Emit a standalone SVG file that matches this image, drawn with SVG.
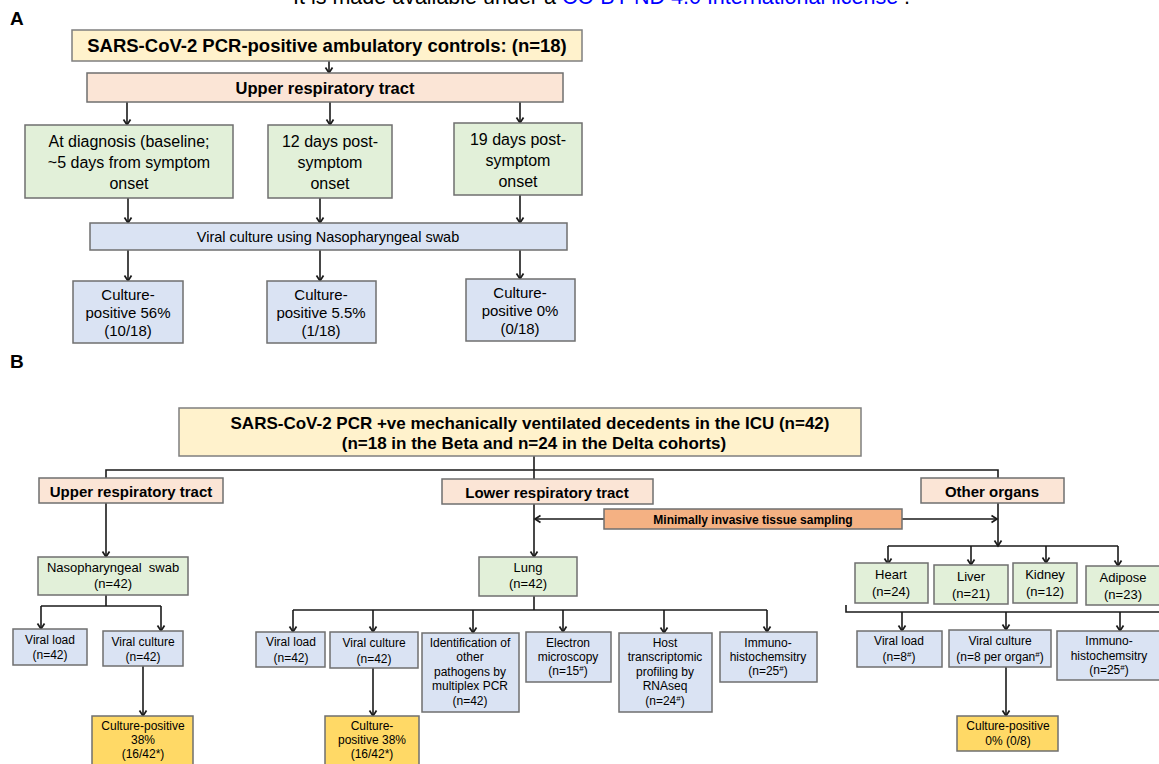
<svg xmlns="http://www.w3.org/2000/svg" width="1159" height="764" viewBox="0 0 1159 764">
<style>
text{font-family:"Liberation Sans",Arial,sans-serif;fill:#000;}
.b{font-weight:bold;}
.c{text-anchor:middle;}
.yel{fill:#fff2cc;stroke:#7f7f7f;stroke-width:1.5;}
.pch{fill:#fbe5d6;stroke:#6f6f6f;stroke-width:1.5;}
.grn{fill:#e2f0d9;stroke:#6f6f6f;stroke-width:1.5;}
.blu{fill:#dae3f3;stroke:#6f6f6f;stroke-width:1.5;}
.org{fill:#f4b183;stroke:#6f6f6f;stroke-width:1.5;}
.gld{fill:#ffd966;stroke:#6f6f6f;stroke-width:1.5;}
.ln{fill:none;stroke:#1a1a1a;stroke-width:1.6;}
.ar{fill:none;stroke:#1a1a1a;stroke-width:1.6;marker-end:url(#ah);}
.t16{font-size:16px;}
.t15{font-size:15px;}
.t13{font-size:13px;}
.t12{font-size:12px;}
</style>
<defs>
<marker id="ah" markerWidth="12" markerHeight="12" refX="9" refY="6" orient="auto" markerUnits="userSpaceOnUse">
<path d="M3.5,2.5 L9,6 L3.5,9.5" fill="none" stroke="#1a1a1a" stroke-width="1.7"/>
</marker>
</defs>

<g id="header">
<text x="293" y="4" style="font-size:21.5px">It is made available under a <tspan fill="#0000ff" style="fill:#0000ff">CC-BY-ND 4.0 International license</tspan> .</text>
<text x="10" y="25" class="b" style="font-size:19px">A</text>
<text x="10" y="368" class="b" style="font-size:19px">B</text>
</g>

<g id="connectors">
<path class="ar" d="M329,61 V73"/>
<path class="ar" d="M127,102 V125"/>
<path class="ar" d="M330,102 V125"/>
<path class="ar" d="M520,102 V123"/>
<path class="ar" d="M128,198 V223"/>
<path class="ar" d="M320,198 V223"/>
<path class="ar" d="M520,195 V223"/>
<path class="ar" d="M128,250 V281"/>
<path class="ar" d="M320,250 V281"/>
<path class="ar" d="M520,250 V279"/>
<path class="ln" d="M534,456 V479"/>
<path class="ln" d="M106,478 V470 H998 V478"/>
<path class="ar" d="M106,503 V557"/>
<path class="ar" d="M534,504 V557"/>
<path class="ar" d="M604,519 H535"/>
<path class="ar" d="M902,519 H997"/>
<path class="ar" d="M998,503 V546"/>
<path class="ln" d="M888,546 H1118"/>
<path class="ar" d="M888,546 V564"/>
<path class="ar" d="M971,546 V565"/>
<path class="ar" d="M1046,546 V563"/>
<path class="ar" d="M1118,546 V566"/>
<path class="ln" d="M846,605 V612 H1160"/>
<path class="ar" d="M902,612 V631"/>
<path class="ar" d="M1006,612 V630"/>
<path class="ar" d="M1120,612 V631"/>
<path class="ar" d="M1006,667 V716"/>
<path class="ln" d="M106,595 V606"/>
<path class="ln" d="M41,606 H161"/>
<path class="ar" d="M41,606 V629"/>
<path class="ar" d="M161,606 V631"/>
<path class="ar" d="M143,666 V716"/>
<path class="ln" d="M534,596 V610"/>
<path class="ln" d="M293,610 H767"/>
<path class="ar" d="M293,610 V632"/>
<path class="ar" d="M373,610 V632"/>
<path class="ar" d="M473,610 V633"/>
<path class="ar" d="M563,610 V632"/>
<path class="ar" d="M664,610 V633"/>
<path class="ar" d="M767,610 V632"/>
<path class="ar" d="M373,668 V716"/>
</g>

<g id="a-title">
<rect class="yel" x="72" y="30" width="510" height="31"/>
<text class="b c" x="327" y="52" style="font-size:18.5px">SARS-CoV-2 PCR-positive ambulatory controls: (n=18)</text>
</g>
<g id="a-urt">
<rect class="pch" x="87" y="73" width="476" height="29"/>
<text class="b c" x="325" y="94" style="font-size:16.5px">Upper respiratory tract</text>
</g>
<g id="a-baseline">
<rect class="grn" x="25" y="125" width="208" height="73"/>
<text class="c t16" x="129" y="147">At diagnosis (baseline;</text>
<text class="c t16" x="129" y="168">~5 days from symptom</text>
<text class="c t16" x="129" y="189">onset</text>
</g>
<g id="a-12days">
<rect class="grn" x="268" y="125" width="124" height="73"/>
<text class="c t16" x="330" y="147">12 days post-</text>
<text class="c t16" x="330" y="168">symptom</text>
<text class="c t16" x="330" y="189">onset</text>
</g>
<g id="a-19days">
<rect class="grn" x="454" y="123" width="128" height="72"/>
<text class="c t16" x="518" y="145">19 days post-</text>
<text class="c t16" x="518" y="166">symptom</text>
<text class="c t16" x="518" y="187">onset</text>
</g>
<g id="a-culture">
<rect class="blu" x="90" y="223" width="477" height="27"/>
<text class="c" x="328" y="242" style="font-size:14.5px">Viral culture using Nasopharyngeal swab</text>
</g>
<g id="a-res1">
<rect class="blu" x="73" y="281" width="110" height="62"/>
<text class="c t15" x="128" y="300">Culture-</text>
<text class="c t15" x="128" y="318">positive 56%</text>
<text class="c t15" x="128" y="336">(10/18)</text>
</g>
<g id="a-res2">
<rect class="blu" x="267" y="281" width="109" height="62"/>
<text class="c t15" x="321" y="300">Culture-</text>
<text class="c t15" x="321" y="318">positive 5.5%</text>
<text class="c t15" x="321" y="336">(1/18)</text>
</g>
<g id="a-res3">
<rect class="blu" x="466" y="279" width="109" height="62"/>
<text class="c t15" x="520" y="298">Culture-</text>
<text class="c t15" x="520" y="316">positive 0%</text>
<text class="c t15" x="520" y="334">(0/18)</text>
</g>

<g id="b-title">
<rect class="yel" x="179" y="408" width="682" height="48"/>
<text class="b c" x="530" y="429" style="font-size:17px">SARS-CoV-2 PCR +ve mechanically ventilated decedents in the ICU (n=42)</text>
<text class="b c" x="534" y="449" style="font-size:17px">(n=18 in the Beta and n=24 in the Delta cohorts)</text>
</g>
<g id="b-urt">
<rect class="pch" x="39" y="478" width="184" height="25"/>
<text class="b c" x="131" y="497" style="font-size:15px">Upper respiratory tract</text>
</g>
<g id="b-lrt">
<rect class="pch" x="442" y="479" width="211" height="25"/>
<text class="b c" x="547" y="498" style="font-size:15px">Lower respiratory tract</text>
</g>
<g id="b-other">
<rect class="pch" x="921" y="478" width="143" height="25"/>
<text class="b c" x="992" y="497" style="font-size:15px">Other organs</text>
</g>
<g id="b-mits">
<rect class="org" x="604" y="509" width="298" height="20"/>
<text class="b c" x="753" y="524" style="font-size:12px">Minimally invasive tissue sampling</text>
</g>
<g id="b-naso">
<rect class="grn" x="38" y="557" width="150" height="38"/>
<text class="c t13" x="113" y="572" xml:space="preserve">Nasopharyngeal  swab</text>
<text class="c t13" x="113" y="588">(n=42)</text>
</g>
<g id="b-lung">
<rect class="grn" x="479" y="557" width="98" height="39"/>
<text class="c t13" x="528" y="572">Lung</text>
<text class="c t13" x="528" y="588">(n=42)</text>
</g>
<g id="b-heart">
<rect class="grn" x="855" y="563" width="73" height="40"/>
<text class="c t13" x="891" y="579">Heart</text>
<text class="c t13" x="891" y="596">(n=24)</text>
</g>
<g id="b-liver">
<rect class="grn" x="934" y="565" width="74" height="39"/>
<text class="c t13" x="971" y="581">Liver</text>
<text class="c t13" x="971" y="598">(n=21)</text>
</g>
<g id="b-kidney">
<rect class="grn" x="1013" y="563" width="64" height="40"/>
<text class="c t13" x="1045" y="579">Kidney</text>
<text class="c t13" x="1045" y="596">(n=12)</text>
</g>
<g id="b-adipose">
<rect class="grn" x="1086" y="566" width="76" height="39"/>
<text class="c t13" x="1123" y="582">Adipose</text>
<text class="c t13" x="1123" y="599">(n=23)</text>
</g>

<g id="b-naso-load">
<rect class="blu" x="13" y="629" width="74" height="36"/>
<text class="c t12" x="50" y="644">Viral load</text>
<text class="c t12" x="50" y="659">(n=42)</text>
</g>
<g id="b-naso-culture">
<rect class="blu" x="103" y="631" width="80" height="35"/>
<text class="c t12" x="143" y="646">Viral culture</text>
<text class="c t12" x="143" y="661">(n=42)</text>
</g>
<g id="b-naso-pos">
<rect class="gld" x="92" y="716" width="101" height="54"/>
<text class="c t12" x="143" y="730">Culture-positive</text>
<text class="c t12" x="143" y="744">38%</text>
<text class="c t12" x="143" y="758">(16/42*)</text>
</g>

<g id="b-lung-load">
<rect class="blu" x="256" y="632" width="69" height="35"/>
<text class="c t12" x="291" y="646">Viral load</text>
<text class="c t12" x="291" y="662">(n=42)</text>
</g>
<g id="b-lung-culture">
<rect class="blu" x="330" y="632" width="88" height="36"/>
<text class="c t12" x="374" y="647">Viral culture</text>
<text class="c t12" x="374" y="663">(n=42)</text>
</g>
<g id="b-lung-id">
<rect class="blu" x="422" y="633" width="97" height="79"/>
<text class="c t12" x="470" y="647">Identification of</text>
<text class="c t12" x="470" y="661">other</text>
<text class="c t12" x="470" y="676">pathogens by</text>
<text class="c t12" x="470" y="690">multiplex PCR</text>
<text class="c t12" x="470" y="705">(n=42)</text>
</g>
<g id="b-lung-em">
<rect class="blu" x="526" y="632" width="85" height="50"/>
<text class="c t12" x="568" y="647">Electron</text>
<text class="c t12" x="568" y="661">microscopy</text>
<text class="c t12" x="568" y="675">(n=15<tspan font-size="8" dy="-4">#</tspan><tspan dy="4">)</tspan></text>
</g>
<g id="b-lung-rna">
<rect class="blu" x="619" y="633" width="93" height="79"/>
<text class="c t12" x="665" y="647">Host</text>
<text class="c t12" x="665" y="661">transcriptomic</text>
<text class="c t12" x="665" y="676">profiling by</text>
<text class="c t12" x="665" y="690">RNAseq</text>
<text class="c t12" x="665" y="705">(n=24<tspan font-size="8" dy="-4">#</tspan><tspan dy="4">)</tspan></text>
</g>
<g id="b-lung-ihc">
<rect class="blu" x="720" y="632" width="97" height="50"/>
<text class="c t12" x="768" y="647">Immuno-</text>
<text class="c t12" x="768" y="661">histochemsitry</text>
<text class="c t12" x="768" y="675">(n=25<tspan font-size="8" dy="-4">#</tspan><tspan dy="4">)</tspan></text>
</g>
<g id="b-lung-pos">
<rect class="gld" x="325" y="716" width="94" height="54"/>
<text class="c t12" x="372" y="730">Culture-</text>
<text class="c t12" x="372" y="744">positive 38%</text>
<text class="c t12" x="372" y="758">(16/42*)</text>
</g>

<g id="b-org-load">
<rect class="blu" x="857" y="631" width="85" height="36"/>
<text class="c t12" x="899" y="645">Viral load</text>
<text class="c t12" x="899" y="661">(n=8<tspan font-size="8" dy="-4">#</tspan><tspan dy="4">)</tspan></text>
</g>
<g id="b-org-culture">
<rect class="blu" x="949" y="630" width="102" height="37"/>
<text class="c t12" x="1000" y="645">Viral culture</text>
<text class="c t12" x="1000" y="661">(n=8 per organ<tspan font-size="8" dy="-4">#</tspan><tspan dy="4">)</tspan></text>
</g>
<g id="b-org-ihc">
<rect class="blu" x="1057" y="631" width="105" height="49"/>
<text class="c t12" x="1109" y="645">Immuno-</text>
<text class="c t12" x="1109" y="660">histochemsitry</text>
<text class="c t12" x="1109" y="674">(n=25<tspan font-size="8" dy="-4">#</tspan><tspan dy="4">)</tspan></text>
</g>
<g id="b-org-pos">
<rect class="gld" x="957" y="716" width="101" height="35"/>
<text class="c t12" x="1008" y="730">Culture-positive</text>
<text class="c t12" x="1008" y="745">0% (0/8)</text>
</g>
</svg>
